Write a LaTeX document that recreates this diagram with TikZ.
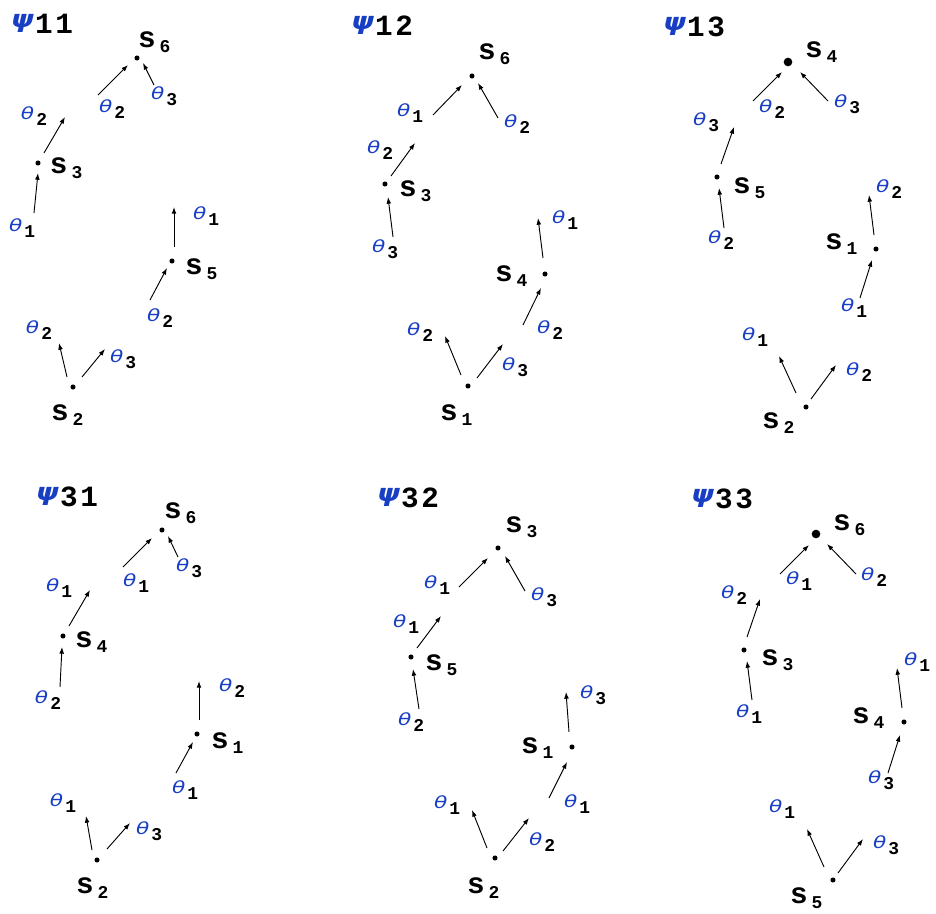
\documentclass[tikz,border=0pt]{standalone}
\usepackage{fontspec}
\usetikzlibrary{arrows.meta}
\newfontfamily\lmono{Liberation Mono}
\newfontfamily\dvs{DejaVu Sans}[ItalicFont={* Oblique},BoldItalicFont={* Bold Oblique}]
\definecolor{thblue}{RGB}{24,62,196}
\newcommand\Sfont{\lmono\bfseries\fontsize{22}{24}\selectfont}
\newcommand\Subfont{\lmono\bfseries\fontsize{13.5}{15}\selectfont}
\newcommand\Ttlfont{\lmono\bfseries\fontsize{22}{24}\selectfont}
\newcommand\Thfont{\dvs\itshape\fontsize{12.5}{14}\selectfont}
\newcommand\Psifont{\dvs\bfseries\itshape\fontsize{18}{20}\selectfont}
\tikzset{
  lab/.style={inner sep=0pt, outer sep=0pt, anchor=base west},
  dotnode/.style={circle, fill=black, inner sep=0pt, minimum size=3.8pt},
  bigdot/.style={circle, fill=black, inner sep=0pt, minimum size=6.5pt},
  arr/.style={line width=0.7pt, -{Latex[length=5pt,width=3.6pt]}}
}
% s label: name, left x, baseline y, digit
\newcommand\slab[4]{\node[lab] (#1) at ({#2-2},#3) {\Sfont s\hspace{3pt}\raisebox{-4.2pt}{\Subfont #4}};}
% theta label: name, left x, baseline y, digit
\newcommand\tlab[4]{\node[lab] (#1) at ({#2-1},#3) {{\color{thblue}\Thfont\scalebox{1.3}[1]{θ}}\hspace{1.5pt}\raisebox{-5pt}{\Subfont #4}};}
% title: name, psi left x, digit baseline y, digit1, digit2
\newcommand\ttl[5]{\node[lab] (#1) at (#2,#3) {\raisebox{4.5pt}{\color{thblue}\Psifont\scalebox{1.2}[1]{ψ}}\hspace{1pt}{\Ttlfont #4\kern2pt#5}};}
% arrow: name, x1, y1, x2, y2
\newcommand\myarr[5]{\coordinate (#1a) at (#2,#3); \coordinate (#1b) at (#4,#5); \draw[arr] (#1a) -- (#1b);}
\begin{document}
\begin{tikzpicture}[x=0.75pt,y=-0.75pt]
\useasboundingbox (0,0) rectangle (936,914);
% ---------------- Panel psi 11 ----------------
\ttl{t11}{11}{33}{1}{1}
\node[dotnode] (p1s6) at (137,58) {};
\node[dotnode] (p1s3) at (38,163) {};
\node[dotnode] (p1s5) at (172,261) {};
\node[dotnode] (p1s2) at (73,387) {};
\slab{p1l6}{140}{47}{6}
\slab{p1l3}{52}{173}{3}
\slab{p1l5}{187}{274}{5}
\slab{p1l2}{53}{420}{2}
\tlab{p1t1}{100}{112}{2}
\tlab{p1t2}{152}{99}{3}
\tlab{p1t3}{22}{119}{2}
\tlab{p1t4}{10}{231}{1}
\tlab{p1t5}{194}{219}{1}
\tlab{p1t6}{148}{321}{2}
\tlab{p1t7}{27}{333}{2}
\tlab{p1t8}{111}{362}{3}
\myarr{p1a1}{98}{95}{128}{65}
\myarr{p1a2}{154}{85}{143}{63}
\myarr{p1a3}{44}{153}{65}{117}
\myarr{p1a4}{34}{213}{38}{173}
\myarr{p1a5}{174}{247}{174}{207}
\myarr{p1a6}{150}{300}{167}{268}
\myarr{p1a7}{67}{377}{59}{343}
\myarr{p1a8}{82}{377}{105}{349}
% ---------------- Panel psi 12 ----------------
\ttl{t12}{351}{35}{1}{2}
\node[dotnode] (p2s6) at (472,76) {};
\node[dotnode] (p2s3) at (385,184) {};
\node[dotnode] (p2s4) at (545,274) {};
\node[dotnode] (p2s1) at (468,386) {};
\slab{p2l6}{480}{59}{6}
\slab{p2l3}{401}{196}{3}
\slab{p2l4}{497}{281}{4}
\slab{p2l1}{442}{420}{1}
\tlab{p2t1}{398}{116}{1}
\tlab{p2t2}{505}{127}{2}
\tlab{p2t3}{368}{153}{2}
\tlab{p2t4}{373}{252}{3}
\tlab{p2t5}{553}{223}{1}
\tlab{p2t6}{538}{333}{2}
\tlab{p2t7}{408}{335}{2}
\tlab{p2t8}{503}{370}{3}
\myarr{p2a1}{433}{115}{462}{85}
\myarr{p2a2}{498}{118}{478}{83}
\myarr{p2a3}{391}{176}{415}{143}
\myarr{p2a4}{393}{237}{388}{197}
\myarr{p2a5}{543}{258}{538}{218}
\myarr{p2a6}{523}{325}{541}{288}
\myarr{p2a7}{461}{375}{445}{336}
\myarr{p2a8}{477}{378}{503}{344}
% ---------------- Panel psi 13 ----------------
\ttl{t13}{663}{36}{1}{3}
\node[bigdot] (p3s4) at (788,62) {};
\node[dotnode] (p3s5) at (717,177) {};
\node[dotnode] (p3s1) at (876,249) {};
\node[dotnode] (p3s2) at (806,407) {};
\slab{p3l4}{807}{57}{4}
\slab{p3l5}{735}{193}{5}
\slab{p3l1}{827}{249}{1}
\slab{p3l2}{764}{428}{2}
\tlab{p3t1}{760}{112}{2}
\tlab{p3t2}{835}{107}{3}
\tlab{p3t3}{694}{125}{3}
\tlab{p3t4}{709}{243}{2}
\tlab{p3t5}{877}{192}{2}
\tlab{p3t6}{842}{311}{1}
\tlab{p3t7}{743}{340}{1}
\tlab{p3t8}{847}{375}{2}
\myarr{p3a1}{753}{101}{782}{72}
\myarr{p3a2}{828}{101}{800}{72}
\myarr{p3a3}{721}{164}{734}{127}
\myarr{p3a4}{724}{228}{719}{188}
\myarr{p3a5}{874}{235}{869}{195}
\myarr{p3a6}{860}{298}{872}{260}
\myarr{p3a7}{796}{393}{779}{356}
\myarr{p3a8}{811}{399}{836}{365}
% ---------------- Panel psi 31 ----------------
\ttl{t31}{36}{506}{3}{1}
\node[dotnode] (p4s6) at (162,530) {};
\node[dotnode] (p4s4) at (63,636) {};
\node[dotnode] (p4s1) at (197,734) {};
\node[dotnode] (p4s2) at (97,860) {};
\slab{p4l6}{166}{518}{6}
\slab{p4l4}{77}{647}{4}
\slab{p4l1}{213}{748}{1}
\slab{p4l2}{78}{893}{2}
\tlab{p4t1}{124}{586}{1}
\tlab{p4t2}{177}{571}{3}
\tlab{p4t3}{47}{591}{1}
\tlab{p4t4}{36}{703}{2}
\tlab{p4t5}{220}{691}{2}
\tlab{p4t6}{173}{793}{1}
\tlab{p4t7}{51}{806}{1}
\tlab{p4t8}{137}{834}{3}
\myarr{p4a1}{123}{567}{152}{538}
\myarr{p4a2}{178}{557}{168}{536}
\myarr{p4a3}{69}{626}{90}{590}
\myarr{p4a4}{60}{687}{62}{647}
\myarr{p4a5}{199}{720}{199}{681}
\myarr{p4a6}{176}{773}{193}{742}
\myarr{p4a7}{92}{850}{86}{816}
\myarr{p4a8}{107}{849}{130}{823}
% ---------------- Panel psi 32 ----------------
\ttl{t32}{377}{507}{3}{2}
\node[dotnode] (p5s3) at (498,548) {};
\node[dotnode] (p5s5) at (411,657) {};
\node[dotnode] (p5s1) at (572,747) {};
\node[dotnode] (p5s2) at (495,858) {};
\slab{p5l3}{507}{532}{3}
\slab{p5l5}{427}{670}{5}
\slab{p5l1}{523}{753}{1}
\slab{p5l2}{469}{893}{2}
\tlab{p5t1}{425}{588}{1}
\tlab{p5t2}{532}{600}{3}
\tlab{p5t3}{394}{627}{1}
\tlab{p5t4}{399}{725}{2}
\tlab{p5t5}{581}{698}{3}
\tlab{p5t6}{565}{807}{1}
\tlab{p5t7}{435}{808}{1}
\tlab{p5t8}{530}{845}{2}
\myarr{p5a1}{459}{587}{488}{558}
\myarr{p5a2}{525}{591}{505}{556}
\myarr{p5a3}{417}{648}{441}{616}
\myarr{p5a4}{419}{709}{413}{669}
\myarr{p5a5}{569}{732}{566}{692}
\myarr{p5a6}{549}{798}{567}{762}
\myarr{p5a7}{487}{848}{472}{810}
\myarr{p5a8}{503}{851}{529}{818}
% ---------------- Panel psi 33 ----------------
\ttl{t33}{691}{508}{3}{3}
\node[bigdot] (p6s6) at (816,534) {};
\node[dotnode] (p6s3) at (744,650) {};
\node[dotnode] (p6s4) at (904,722) {};
\node[dotnode] (p6s5) at (833,880) {};
\slab{p6l6}{835}{530}{6}
\slab{p6l3}{763}{665}{3}
\slab{p6l4}{854}{723}{4}
\slab{p6l5}{792}{903}{5}
\tlab{p6t1}{787}{584}{1}
\tlab{p6t2}{862}{580}{2}
\tlab{p6t3}{722}{598}{2}
\tlab{p6t4}{737}{717}{1}
\tlab{p6t5}{905}{665}{1}
\tlab{p6t6}{869}{783}{3}
\tlab{p6t7}{770}{812}{1}
\tlab{p6t8}{874}{848}{3}
\myarr{p6a1}{780}{574}{809}{545}
\myarr{p6a2}{856}{574}{827}{544}
\myarr{p6a3}{747}{637}{760}{599}
\myarr{p6a4}{752}{700}{747}{661}
\myarr{p6a5}{902}{708}{897}{668}
\myarr{p6a6}{888}{773}{900}{735}
\myarr{p6a7}{824}{867}{807}{829}
\myarr{p6a8}{838}{873}{863}{839}
\end{tikzpicture}
\end{document}
